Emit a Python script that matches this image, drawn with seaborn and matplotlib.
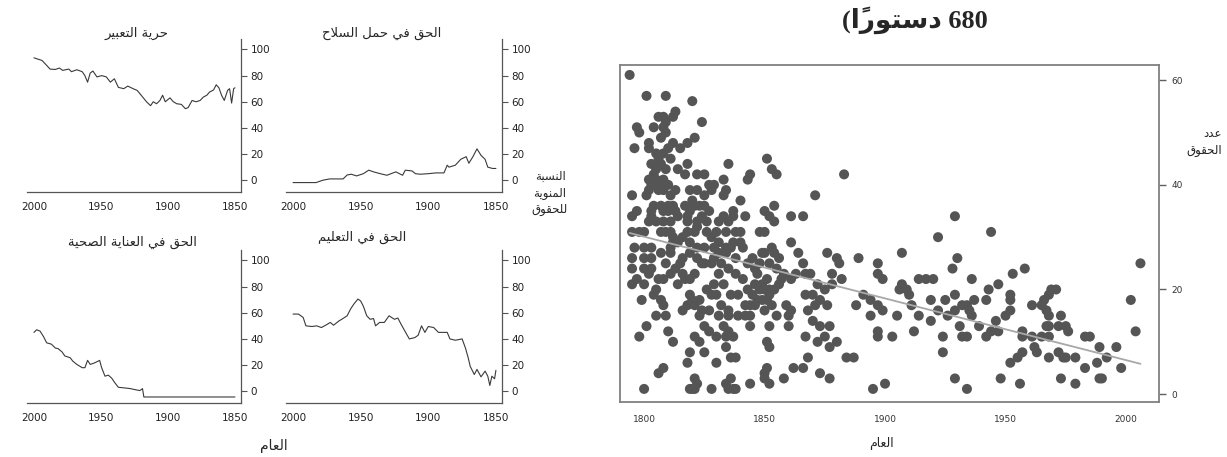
import matplotlib
matplotlib.use("Agg")
import matplotlib.pyplot as plt
import seaborn as sns

# ---- data ----
expr_year = [2000, 1994, 1990.5, 1988, 1984, 1981, 1978.6, 1974, 1972, 1968, 1964, 1962, 1960,
             1958, 1956, 1953, 1949.5, 1946, 1943, 1940, 1937, 1933, 1930, 1926, 1923, 1920,
             1916, 1913, 1911, 1908.5, 1906, 1904, 1902, 1898.5, 1896, 1893.5, 1890, 1887,
             1885, 1882, 1879, 1876, 1873.6, 1871, 1869, 1866, 1864, 1862, 1860, 1858, 1855.5,
             1854, 1852.5, 1851, 1850]
expr_pct = [93.6, 91.6, 87.8, 85, 84.7, 85.8, 84, 85, 83, 84.5, 83, 80, 75,
            82, 83.5, 79, 80, 79, 75, 77.6, 71, 70, 72, 70, 68.7, 65,
            60, 57, 60, 58.5, 61, 65, 60, 63, 60, 58.5, 58, 54.7,
            55.5, 61, 60, 61, 63.6, 65, 67.4, 69, 73, 70.7, 65, 61, 68.7,
            70, 59, 70, 70.7]

arms_year = [2000, 1983, 1978, 1973, 1963, 1960, 1957, 1953, 1948, 1944, 1940.5, 1935.5,
             1930.6, 1924, 1919, 1917, 1912, 1909.5, 1906, 1900, 1894.6, 1888.4, 1886,
             1884.7, 1880, 1876, 1872, 1870, 1867, 1864, 1861, 1858, 1856, 1852.5, 1850]
arms_pct = [-1.8, -1.8, 0, 1, 1, 4, 4.6, 3.3, 5, 7.7, 6.4, 5,
            3.8, 6.4, 3.8, 7.7, 7.1, 5, 4.6, 5, 5.6, 5.6, 11.5,
            10, 11.5, 16, 18, 13, 18, 24, 19, 16, 10, 9, 9]

health_year = [2000, 1998, 1995.5, 1993, 1990.5, 1987, 1984, 1982, 1979, 1977, 1973, 1971,
               1968, 1964, 1962, 1960, 1958, 1954.5, 1951, 1949.5, 1947, 1944.5, 1942,
               1939.6, 1937, 1933, 1928, 1925, 1921, 1919, 1918, 1850]
health_pct = [45, 47, 46, 42, 37, 36, 33, 32.6, 30, 27, 25.6, 23,
              20.5, 18, 18, 23.6, 20.5, 21.8, 23.6, 18, 11.5, 12.3, 10,
              6.4, 3, 2.6, 2, 1.3, 0.5, 2, -4.4, -4.4]

edu_year = [2000, 1996, 1992.5, 1990.5, 1986, 1982.5, 1979, 1975, 1972.5, 1970, 1966, 1964,
            1960, 1957.5, 1955, 1952, 1950, 1948, 1945.5, 1943, 1940.5, 1939, 1936, 1932.5,
            1929, 1925, 1922.5, 1920, 1916, 1914, 1910, 1907.5, 1905, 1902.5, 1900, 1896,
            1892.5, 1886, 1884, 1880, 1875, 1872.5, 1870.5, 1869, 1866, 1864, 1861, 1858,
            1856, 1854.5, 1853, 1851, 1850]
edu_pct = [59, 59, 56.4, 50, 49.5, 50, 48.7, 51, 52.6, 50.5, 53.8, 55,
           57.7, 62.8, 66.7, 70.5, 69, 65, 57.7, 55, 55.6, 50, 52.6, 52.6,
           57.7, 55, 56, 51, 43.6, 40, 41, 42.8, 50, 45, 49.5, 48.7,
           45, 45, 40, 39, 40, 33, 25.6, 19, 12.8, 16.7, 11, 15.4,
           11.5, 4.4, 11.5, 9.5, 16]

# constitutions: year of adoption and number of rights
con_year = [1794, 1801, 1809, 1820, 1813, 1812, 1806, 1808, 1809, 1824, 1797, 1804, 1808, 1798,
            1809, 1821, 1818, 1815, 1807, 1802, 1802, 1796, 1805, 1808, 1851, 1818, 1835, 1853,
            1855, 1883, 1844, 1843, 1805, 1809, 1814, 1817, 1822, 1825, 1802, 1805, 1808, 1833,
            1803, 1806, 1827, 1829, 1828, 1834, 1819, 1822, 1802, 1806, 1808, 1795, 1801, 1825,
            1833, 1871, 1804, 1807, 1810, 1812, 1821, 1825, 1840, 1803, 1813, 1837, 1854, 1797,
            1795, 1803, 1808, 1810, 1814, 1818, 1822, 1833, 1837, 1842, 1850, 1852, 1854, 1861,
            1866, 1802, 1805, 1808, 1811, 1818, 1822, 1826, 1831, 1835, 1795, 1798, 1800, 1807,
            1809, 1811, 1818, 1821, 1826, 1830, 1834, 1838, 1840, 1848, 1850, 1929, 1922, 1944,
            1796, 1800, 1803, 1811, 1812, 1819, 1822, 1825, 1831, 1834, 1837, 1840, 1861, 1864,
            1795, 1800, 1803, 1807, 1811, 1816, 1819, 1822, 1825, 1829, 1834, 1838, 1845, 1849,
            1854, 1856, 1866, 1869, 1876, 1880, 1881, 1889, 1897, 1897, 1899, 1907,
            1795, 1800, 1803, 1809, 1811, 1808, 1806, 1816, 1819, 1821, 1824, 1828, 1831, 1835,
            1838, 1841, 1847, 1849, 1851, 1852, 1850, 1858, 1861, 1863, 1867, 1872, 1875, 1878,
            1878, 1882, 1906,
            1795, 1800, 1804, 1814, 1819, 1820, 1818, 1816, 1823, 1821, 1824, 1827, 1830, 1829,
            1833, 1836, 1839, 1842, 1844, 1846, 1846, 1848, 1851, 1852, 1847, 1854, 1856, 1867,
            1870, 1873, 1876, 1871, 1868, 1870, 1873, 1877, 1859, 1860, 1861, 1888, 1891, 1894,
            1897, 1899, 1894, 1905, 1807, 1808, 1809, 1805, 1835, 1835, 1839, 1842, 1844, 1844,
            1852, 1823, 1825, 1821, 1823, 1827, 1830, 1833, 1835, 1837, 1834, 1801, 1798, 1810,
            1812, 1851, 1852, 1860, 1867, 1872, 1875, 1877, 1880, 1897, 1897, 1903, 1819, 1818,
            1825, 1830, 1834, 1836, 1838, 1868, 1884, 1887, 1808, 1806, 1850, 1851, 1850, 1852,
            1862, 1866, 1873, 1877, 1821, 1822, 1821, 1819, 1820, 1828, 1834, 1836, 1838, 1835,
            1837, 1844, 1858, 1800, 1895, 1900,
            1907, 1909, 1910, 1911, 1912, 1914, 1917, 1920, 1914, 1919, 1919, 1922, 1924, 1924,
            1925, 1926, 1928, 1930, 1929, 1929, 1929, 1931, 1932, 1934, 1935, 1936, 1932, 1934,
            1934, 1936, 1937, 1939, 1942, 1943, 1942, 1944, 1947, 1946, 1947, 1948, 1950, 1952,
            1952, 1952, 1953, 1952, 1955, 1957, 1956, 1957, 1957, 1958, 1961, 1961, 1962, 1963,
            1965, 1965, 1966, 1967, 1968, 1967, 1968, 1968, 1969, 1971, 1968, 1968, 1972, 1973,
            1972, 1974, 1975, 1973, 1975, 1976, 1979, 1979, 1983, 1983, 1985, 1988, 1989, 1989,
            1990, 1992, 1996, 1998, 2002, 2004, 2006,
            1803, 1804, 1806, 1807, 1810, 1811, 1812, 1810, 1811, 1813, 1812, 1814, 1816, 1817,
            1819, 1820, 1823, 1824, 1827, 1828, 1829, 1831, 1832, 1836, 1841, 1843, 1846, 1848,
            1850, 1852, 1853, 1855, 1857, 1849, 1850, 1853, 1855, 1843, 1845, 1826, 1828, 1832,
            1831, 1813, 1815, 1817, 1802, 1805, 1797, 1799]
con_rights = [61, 57, 57, 56, 54, 53, 53, 53, 52, 52, 51, 51, 51, 50,
              50, 49, 48, 47, 49, 48, 47, 47, 46, 46, 45, 44, 44, 43,
              42, 42, 42, 41, 43, 43, 43, 42, 42, 42, 41, 41, 41, 41,
              40, 40, 40, 40, 39, 39, 39, 39, 39, 39, 39, 38, 38, 38,
              38, 38, 36, 36, 36, 36, 36, 36, 37, 35, 35, 35, 36, 35,
              34, 34, 35, 35, 34, 34, 33, 34, 34, 34, 35, 34, 33, 34,
              34, 33, 33, 33, 33, 33, 32, 33, 33, 33, 31, 31, 31, 31,
              31, 31, 31, 31, 31, 31, 31, 31, 31, 31, 31, 34, 30, 31,
              28, 28, 28, 28, 29, 29, 28, 28, 29, 28, 29, 29, 29, 27,
              26, 26, 26, 27, 27, 26, 27, 26, 25, 26, 27, 26, 26, 27,
              27, 26, 25, 23, 27, 26, 25, 26, 25, 23, 22, 27,
              24, 24, 24, 25, 23, 22, 22, 23, 22, 23, 25, 25, 23, 24,
              23, 22, 23, 21, 22, 20, 20, 23, 22, 23, 23, 21, 20, 21,
              23, 22, 20,
              21, 21, 19, 21, 19, 18, 17, 16, 18, 17, 16, 16, 19, 21,
              21, 19, 19, 17, 17, 17, 21, 20, 18, 19, 18, 20, 21, 19,
              19, 18, 17, 17, 16, 14, 13, 13, 17, 15, 16, 17, 19, 18,
              17, 16, 15, 15, 18, 17, 15, 15, 16, 15, 15, 15, 15, 13,
              13, 15, 13, 11, 10, 12, 11, 13, 12, 11, 11, 13, 11, 12,
              10, 10, 9, 13, 11, 10, 11, 9, 10, 12, 11, 11, 8, 6,
              8, 6, 9, 7, 7, 7, 7, 7, 5, 4, 4, 5, 3, 2,
              5, 5, 4, 3, 3, 2, 1, 1, 1, 1, 2, 3, 1, 1,
              1, 2, 3, 1, 1, 2,
              21, 20, 19, 17, 12, 22, 22, 22, 15, 18, 14, 16, 11, 8,
              18, 15, 24, 26, 19, 16, 3, 13, 17, 17, 16, 15, 11, 11,
              1, 22, 18, 13, 18, 20, 11, 12, 12, 14, 21, 3, 15, 16,
              18, 19, 23, 6, 7, 8, 2, 12, 11, 24, 17, 11, 9, 8,
              11, 17, 18, 13, 13, 16, 15, 19, 20, 20, 11, 7, 13, 3,
              8, 7, 7, 15, 13, 12, 7, 2, 5, 11, 11, 6, 9, 3,
              3, 7, 9, 5, 18, 12, 25,
              44, 42, 45, 44, 47, 45, 48, 40, 38, 39, 30, 29, 30, 36,
              35, 37, 36, 34, 35, 30, 28, 27, 25, 28, 28, 25, 24, 25,
              27, 25, 28, 24, 22, 18, 16, 17, 15, 20, 19, 20, 19, 17,
              15, 24, 25, 22, 23, 20, 22, 18]

# ---- minimal arabic shaping (matplotlib has no complex text layout) ----
AR_FORMS = {
    'آ': (0xFE81, False), 'أ': (0xFE83, False), 'ؤ': (0xFE85, False), 'إ': (0xFE87, False),
    'ئ': (0xFE89, True), 'ا': (0xFE8D, False), 'ب': (0xFE8F, True), 'ة': (0xFE93, False),
    'ت': (0xFE95, True), 'ث': (0xFE99, True), 'ج': (0xFE9D, True), 'ح': (0xFEA1, True),
    'خ': (0xFEA5, True), 'د': (0xFEA9, False), 'ذ': (0xFEAB, False), 'ر': (0xFEAD, False),
    'ز': (0xFEAF, False), 'س': (0xFEB1, True), 'ش': (0xFEB5, True), 'ص': (0xFEB9, True),
    'ض': (0xFEBD, True), 'ط': (0xFEC1, True), 'ظ': (0xFEC5, True), 'ع': (0xFEC9, True),
    'غ': (0xFECD, True), 'ف': (0xFED1, True), 'ق': (0xFED5, True), 'ك': (0xFED9, True),
    'ل': (0xFEDD, True), 'م': (0xFEE1, True), 'ن': (0xFEE5, True), 'ه': (0xFEE9, True),
    'و': (0xFEED, False), 'ى': (0xFEEF, False), 'ي': (0xFEF1, True), 'لا': (0xFEFB, False),
}


def ar(text):
    cl = []
    for ch in text:
        if '\u064B' <= ch <= '\u0652' and cl:
            cl[-1][1] += ch
        elif ch == 'ا' and cl and cl[-1][0] == 'ل' and not cl[-1][1]:
            cl[-1][0] = 'لا'
        else:
            cl.append([ch, ''])
    out = []
    for i, (b, m) in enumerate(cl):
        if b in AR_FORMS:
            start, dual = AR_FORMS[b]
            prev = cl[i - 1][0] if i else ''
            nxt = cl[i + 1][0] if i + 1 < len(cl) else ''
            jp = prev in AR_FORMS and AR_FORMS[prev][1]
            jn = dual and nxt in AR_FORMS
            off = (3 if jn else 1) if jp else (2 if jn else 0)
            b = chr(start + off)
        out.append(b + m)
    return ''.join(reversed(out))


sns.set_style("white")
plt.rcParams['font.family'] = ['DejaVu Sans']

W, H = 1227, 457
fig = plt.figure(figsize=(W / 100, H / 100), dpi=100)


def box(l, t, r, b):
    return [l / W, 1 - b / H, (r - l) / W, (b - t) / H]


def ftext(x, y, s, **kw):
    fig.text(x / W, 1 - y / H, s, ha='center', va='center', **kw)


panels = [
    (expr_year, expr_pct, (27, 39, 241, 192)),
    (arms_year, arms_pct, (286, 39, 502, 192)),
    (health_year, health_pct, (27, 250, 241, 403)),
    (edu_year, edu_pct, (286, 250, 502, 403)),
]
for yrs, pct, pos in panels:
    ax = fig.add_axes(box(*pos))
    sns.lineplot(x=yrs, y=pct, ax=ax, color='#3a3a3a', lw=0.8)
    ax.set_xlim(2005.2, 1845.5)
    ax.set_ylim(-9, 108)
    ax.set_xticks([2000, 1950, 1900, 1850])
    ax.set_yticks([0, 20, 40, 60, 80, 100])
    ax.yaxis.tick_right()
    for s in ['left', 'top']:
        ax.spines[s].set_visible(False)
    for s in ['right', 'bottom']:
        ax.spines[s].set_color('#555555')
        ax.spines[s].set_linewidth(0.9)
    ax.tick_params(direction='out', length=4, width=0.8, color='#555555',
                   labelsize=7.5, pad=3, labelcolor='#222222')
    ax.set_xlabel('')
    ax.set_ylabel('')

ftext(136, 33, ar('حرية التعبير'), fontsize=9.5)
ftext(382, 33, ar('الحق في حمل السلاح'), fontsize=9.5)
ftext(132, 242, ar('الحق في العناية الصحية'), fontsize=9.5)
ftext(362, 237, ar('الحق في التعليم'), fontsize=9.5)
ftext(550, 193, '\n'.join(ar(t) for t in ['النسبة', 'المنوية', 'للحقوق']),
      fontsize=8.5, linespacing=1.35)
ftext(274, 446, ar('العام'), fontsize=10)

# scatter of constitutions
ax = fig.add_axes(box(620, 65, 1159, 402))
sns.regplot(x=con_year, y=con_rights, ax=ax, ci=None,
            scatter_kws=dict(s=52, color='#555555', edgecolor='none', alpha=1),
            line_kws=dict(color='#a8a8a8', lw=1.3))
ax.set_xlim(1790, 2013.7)
ax.set_ylim(-1.5, 62.9)
ax.set_xticks([1800, 1850, 1900, 1950, 2000])
ax.set_yticks([0, 20, 40, 60])
ax.yaxis.tick_right()
for s in ax.spines.values():
    s.set_color('#808080')
    s.set_linewidth(1.3)
ax.tick_params(direction='out', length=5, width=1, color='#606060',
               labelsize=6.5, pad=4, labelcolor='#333333')
ax.set_xlabel('')
ax.set_ylabel('')

ftext(881, 443, ar('العام'), fontsize=9)
fig.text(1222 / W, 1 - 142 / H, ar('عدد') + '\n' + ar('الحقوق'), ha='right', va='center',
         fontsize=8.5, multialignment='right', linespacing=1.4, color='#222222')
ftext(915, 20, '(' + ar('دستوراً') + ' 680', fontsize=19, fontweight='bold',
      family=['Liberation Serif', 'DejaVu Sans'])

fig.savefig('out.png', dpi=100)
